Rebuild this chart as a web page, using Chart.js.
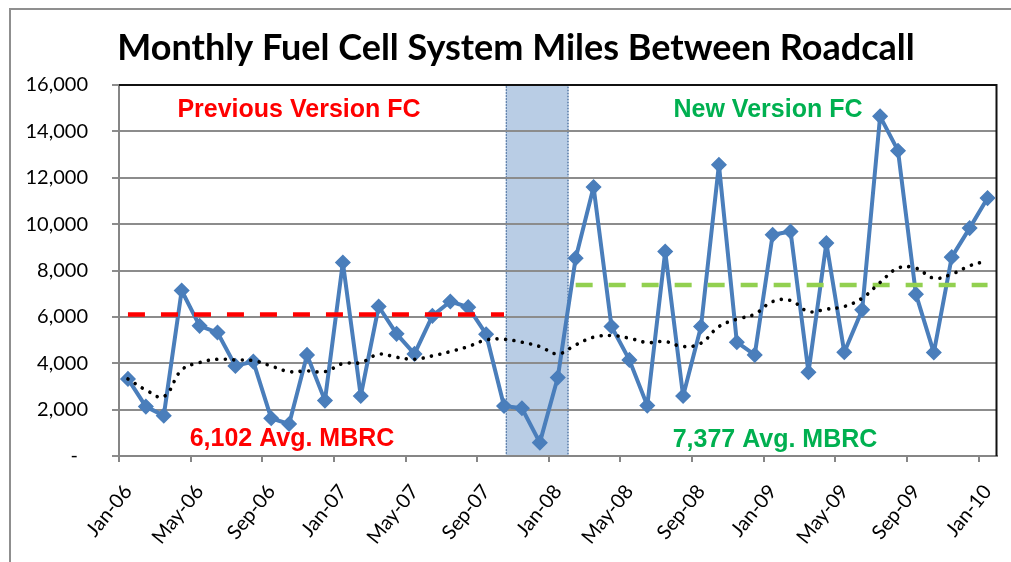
<!DOCTYPE html>
<html><head><meta charset="utf-8">
<script src="https://cdn.jsdelivr.net/npm/chart.js@4.4.1/dist/chart.umd.min.js"></script>
<style>html,body{margin:0;padding:0;background:#fff;}canvas{display:block;}</style>
</head><body>
<canvas id="c" width="1011" height="562"></canvas>
<script>
// ---- data ----
const months = ['Jan-06','Feb-06','Mar-06','Apr-06','May-06','Jun-06','Jul-06','Aug-06','Sep-06','Oct-06','Nov-06','Dec-06',
  'Jan-07','Feb-07','Mar-07','Apr-07','May-07','Jun-07','Jul-07','Aug-07','Sep-07','Oct-07','Nov-07','Dec-07',
  'Jan-08','Feb-08','Mar-08','Apr-08','May-08','Jun-08','Jul-08','Aug-08','Sep-08','Oct-08','Nov-08','Dec-08',
  'Jan-09','Feb-09','Mar-09','Apr-09','May-09','Jun-09','Jul-09','Aug-09','Sep-09','Oct-09','Nov-09','Dec-09',
  'Jan-10'];
const mbrc = [3324,2130,1741,7137,5612,5324,3885,4072,1626,1381,4360,2389,
  8346,2590,6447,5267,4403,6044,6662,6418,5252,2158,2058,576,
  3382,8533,11598,5583,4144,2173,8821,2590,5583,12562,4907,4360,
  9540,9684,3612,9181,4475,6303,14649,13167,6979,4461,8576,9828,
  11123];
const trend = [3324,2850,2560,3713,4030,4173,4144,4115,3885,3640,3670,3640,
  3986,4030,4389,4260,4173,4317,4504,4720,5008,5036,4907,4720,
  4403,4792,5123,5195,5080,4893,4936,4720,4864,5583,5900,6116,
  6663,6706,6231,6332,6447,6807,7483,8102,8102,7670,7843,8203,
  8419];
const prevAvg = 6102;
const newAvg = 7377;
const prevRange = [0, 21];
const newRange = [25, 48];
const transitionBand = [21.1, 24.6];
const yTickValues = [0,2000,4000,6000,8000,10000,12000,14000,16000];
const tickEvery = 4;
const titleText = 'Monthly Fuel Cell System Miles Between Roadcall';
const notes = [
  {text:'Previous Version FC', color:'#FF0000', x:9.55, y:14922},
  {text:'6,102 Avg. MBRC',     color:'#FF0000', x:9.16, y:712},
  {text:'New Version FC',      color:'#00B050', x:35.74, y:14922},
  {text:'7,377 Avg. MBRC',     color:'#00B050', x:36.13, y:690}
];

const prevLine = months.map((m,i)=> (i>=prevRange[0] && i<=prevRange[1]) ? prevAvg : null);
const newLine  = months.map((m,i)=> (i>=newRange[0] && i<=newRange[1]) ? newAvg : null);

const decorPlugin = {
  id:'decor',
  beforeDraw(chart){
    const {ctx, chartArea:a, scales:{x}} = chart;
    ctx.save();
    ctx.fillStyle='#fff'; ctx.fillRect(0,0,chart.width,chart.height);
    ctx.strokeStyle='#8f8f8f'; ctx.lineWidth=2;
    ctx.strokeRect(10,9,1100,700);
    ctx.fillStyle='#000';
    ctx.font='bold 36px Lato, sans-serif';
    ctx.textAlign='center'; ctx.textBaseline='alphabetic';
    ctx.fillText(titleText, 516, 60);
    const x0 = x.getPixelForValue(transitionBand[0]);
    const x1 = x.getPixelForValue(transitionBand[1]);
    ctx.fillStyle='#B9CDE5';
    ctx.fillRect(x0, a.top, x1-x0, a.bottom-a.top);
    ctx.strokeStyle='#3F6596'; ctx.lineWidth=1.2; ctx.setLineDash([1.5,1.5]);
    ctx.strokeRect(x0+0.5, a.top+0.5, x1-x0-1, a.bottom-a.top-1);
    ctx.restore();
  },
  beforeDatasetsDraw(chart){
    const {ctx, chartArea:a} = chart;
    ctx.save();
    ctx.strokeStyle='#111'; ctx.lineWidth=2;
    ctx.beginPath();
    ctx.moveTo(a.left, a.top); ctx.lineTo(a.right, a.top); ctx.lineTo(a.right, a.bottom);
    ctx.stroke();
    ctx.restore();
  },
  afterDatasetsDraw(chart){
    const {ctx, scales:{x,y}} = chart;
    ctx.save();
    ctx.font = 'bold 25px "Liberation Sans", Arial, sans-serif';
    ctx.textAlign='center'; ctx.textBaseline='middle';
    notes.forEach(n=>{
      ctx.fillStyle=n.color;
      ctx.fillText(n.text, x.getPixelForValue(n.x), y.getPixelForValue(n.y));
    });
    ctx.restore();
  }
};

new Chart(document.getElementById('c'), {
  type:'line',
  data:{
    labels: months,
    datasets:[
      {label:'Trend', data:trend, borderColor:'#000', borderWidth:3.6, borderDash:[0.01,8.5],
       borderCapStyle:'round', pointRadius:0, tension:0.4, order:1},
      {label:'Prev avg', data:prevLine, borderColor:'#FF0000', borderWidth:4.5, borderDash:[17,16],
       pointRadius:0, order:2},
      {label:'New avg', data:newLine, borderColor:'#92D050', borderWidth:4.5, borderDash:[17,16],
       pointRadius:0, order:3},
      {label:'MBRC', data:mbrc, borderColor:'#4A7EBB', backgroundColor:'#4A7EBB', borderWidth:4,
       borderJoinStyle:'round',
       pointStyle:'rectRot', pointRadius:7, pointBorderWidth:1.5, pointBorderColor:'#4A7EBB', tension:0, order:4}
    ]
  },
  options:{
    responsive:false, animation:false,
    layout:{padding:{left:10, right:14.5, top:85, bottom:0}},
    plugins:{ legend:{display:false}, tooltip:{enabled:false}, title:{display:false} },
    scales:{
      x:{
        offset:true,
        grid:{offset:true, drawOnChartArea:false, tickLength:6, lineWidth:2,
          color:(c)=> (c.index % tickEvery === 0) ? '#868686' : 'rgba(0,0,0,0)'},
        border:{color:'#868686', width:2},
        ticks:{autoSkip:false, minRotation:51, maxRotation:51, padding:18, color:'#000',
          font:{family:'Lato', size:20},
          callback:(v,i)=> (i % tickEvery === 0) ? months[i] : ''},
        afterFit:(s)=>{ s.height = 106; s.paddingLeft = 0; s.paddingRight = 0; }
      },
      y:{
        min:0, max:16000,
        afterBuildTicks:(s)=>{ s.ticks = yTickValues.map(v=>({value:v})); },
        grid:{color:'#8c8c8c', lineWidth:2, tickLength:7},
        border:{color:'#868686', width:2},
        ticks:{padding:24, color:'#000', font:{family:'Lato', size:20},
          callback:(v)=> v === 0 ? '-\u2002' : v.toLocaleString('en-US')},
        afterFit:(s)=>{ s.width = 109; s.paddingTop = 0; s.paddingBottom = 0; }
      }
    }
  },
  plugins:[decorPlugin]
});
</script>
</body></html>
